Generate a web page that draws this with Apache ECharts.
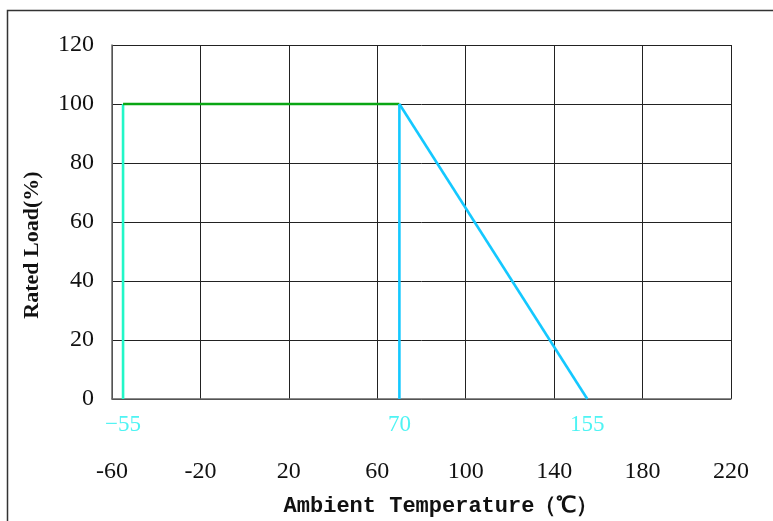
<!DOCTYPE html>
<html>
<head>
<meta charset="utf-8">
<script src="https://cdn.jsdelivr.net/npm/echarts@6/dist/echarts.min.js"></script>
<style>html,body{margin:0;padding:0;background:#fff;}#c{width:773px;height:521px;}</style>
</head>
<body>
<div id="c"></div>
<script>
var xTicks = [-60, -20, 20, 60, 100, 140, 180, 220];
var yTicks = [0, 20, 40, 60, 80, 100, 120];
var teal = [[-55, 0], [-55, 100]];
var green = [[-55, 100], [70, 100]];
var blueVertical = [[70, 0], [70, 100]];
var blueSlope = [[70, 100], [155, 0]];
var markTemps = [-55, 70, 155];
var xName = 'Ambient Temperature（℃）';
var yName = 'Rated Load(%)';

var chart = echarts.init(document.getElementById('c'));
var serif = '"Liberation Serif", "Times New Roman", serif';
function lineSeries(data, color) {
  return {
    type: 'line', data: data, symbol: 'none', animation: false,
    lineStyle: { color: color, width: 2.6 }, z: 5
  };
}
var xMin = xTicks[0], xMax = xTicks[xTicks.length - 1];
chart.setOption({
  animation: false,
  backgroundColor: '#fff',
  grid: { left: 112, top: 45, right: 42, bottom: 122 },
  xAxis: [{
    type: 'value', min: xMin, max: xMax,
    axisLine: { onZero: false, lineStyle: { color: '#666', width: 1.5 } },
    axisTick: { show: false, customValues: xTicks },
    axisLabel: { color: '#111', fontFamily: serif, fontSize: 24, margin: 61, customValues: xTicks },
    splitLine: { show: false }
  }, {
    // helper axis (offset scale, same span) used only to draw the vertical grid lines at the tick positions
    type: 'value', position: 'bottom', min: 0, max: xMax - xMin, interval: 40,
    axisLine: { show: false }, axisTick: { show: false }, axisLabel: { show: false },
    splitLine: { show: true, lineStyle: { color: '#222', width: 1 } }
  }],
  yAxis: {
    type: 'value', min: yTicks[0], max: yTicks[yTicks.length - 1], interval: 20,
    axisLine: { show: true, onZero: false, lineStyle: { color: '#666', width: 1.5 } },
    axisTick: { show: false },
    axisLabel: { color: '#111', fontFamily: serif, fontSize: 24, margin: 18, padding: [7, 0, 0, 0] },
    splitLine: { show: true, lineStyle: { color: '#222', width: 1 } }
  },
  series: [
    lineSeries(teal, '#22f7c8'),
    lineSeries(green, '#0aa614'),
    lineSeries(blueVertical, '#14c8ff'),
    lineSeries(blueSlope, '#14c8ff'),
    {
      type: 'scatter', symbolSize: 0, animation: false,
      data: markTemps.map(function (t) { return [t, 0]; }),
      label: {
        show: true, position: 'bottom', distance: 14,
        formatter: function (p) { return String(p.value[0]).replace('-', '\u2212'); },
        color: '#22f0f0', fontFamily: serif, fontSize: 23
      },
      z: 6
    }
  ],
  graphic: [
    { type: 'rect', shape: { x: 7.5, y: 10.5, width: 900, height: 700 },
      style: { fill: 'none', stroke: '#333', lineWidth: 1.5 }, z: -1 },
    { type: 'text', x: 441, y: 506,
      style: { text: xName, font: 'bold 22px "Liberation Mono", monospace', fill: '#111', align: 'center', verticalAlign: 'middle' } },
    { type: 'text', x: 32, y: 245, rotation: Math.PI / 2,
      style: { text: yName, font: 'bold 22px "Liberation Serif", serif', fill: '#111', align: 'center', verticalAlign: 'middle' } }
  ]
});
</script>
</body>
</html>
